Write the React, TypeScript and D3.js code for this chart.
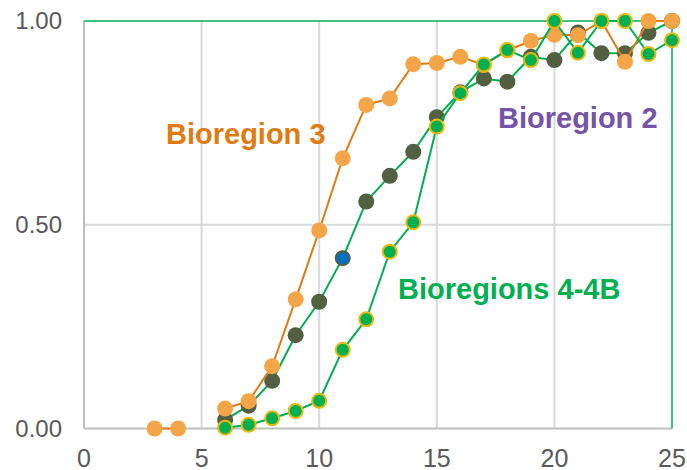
import React from "react";
import * as d3 from "d3";

// Bioregion 3 (orange)
const xOrange = [3, 4, 6, 7, 8, 9, 10, 11, 12, 13, 14, 15, 16, 17, 18, 19, 20, 21, 22, 23, 24, 25];
const yOrange = [0, 0, 0.049, 0.067, 0.153, 0.317, 0.486, 0.663, 0.794, 0.81, 0.894, 0.897, 0.912, 0.892, 0.928, 0.951, 0.966, 0.965, 1.0, 0.9, 1.0, 1.0];

// Bioregion 2 (dark markers)
const xDark = [6, 7, 8, 9, 10, 11, 12, 13, 14, 15, 16, 17, 18, 19, 20, 21, 22, 23, 24, 25];
const yDark = [0.021, 0.056, 0.117, 0.229, 0.311, 0.418, 0.557, 0.62, 0.679, 0.764, 0.825, 0.859, 0.851, 0.912, 0.904, 0.972, 0.921, 0.921, 0.971, 1.0];
const highlightX = [11];

// Bioregions 4-4B (green)
const xGreen = [6, 7, 8, 9, 10, 11, 12, 13, 14, 15, 16, 17, 18, 19, 20, 21, 22, 23, 24, 25];
const yGreen = [0.002, 0.009, 0.025, 0.043, 0.068, 0.193, 0.268, 0.434, 0.506, 0.741, 0.823, 0.893, 0.929, 0.904, 1.0, 0.922, 1.0, 1.0, 0.919, 0.953];

const xTicks = [0, 5, 10, 15, 20, 25];
const yTicks = [0, 0.5, 1.0];
const yTickLabels = ["0.00", "0.50", "1.00"];

const labels = ["Bioregion 3", "Bioregion 2", "Bioregions 4-4B"];

export default function App() {
  const W = 687, H = 470;
  const x = d3.scaleLinear().domain([0, 25]).range([84, 672]);
  const y = d3.scaleLinear().domain([0, 1]).range([428.5, 21]);

  const pts = (xs: number[], ys: number[]) => xs.map((v, i) => [v, ys[i]] as [number, number]);
  const orange = pts(xOrange, yOrange);
  const dark = pts(xDark, yDark);
  const green = pts(xGreen, yGreen);

  const line = d3
    .line<[number, number]>()
    .x((d) => x(d[0]))
    .y((d) => y(d[1]));

  // orange has a gap at x=5
  const orangeSegs: [number, number][][] = [];
  let cur: [number, number][] = [];
  orange.forEach((p, i) => {
    if (i > 0 && p[0] - orange[i - 1][0] > 1) {
      orangeSegs.push(cur);
      cur = [];
    }
    cur.push(p);
  });
  orangeSegs.push(cur);

  const font = "'Liberation Sans', Arial, sans-serif";

  return (
    <svg
      width={W}
      height={H}
      style={{ position: "absolute", left: 0, top: 0, background: "#fff" }}
    >
      {/* gridlines */}
      {xTicks.filter((t) => t > 0 && t < 25).map((t) => (
        <line key={"gx" + t} x1={x(t)} x2={x(t)} y1={y(1)} y2={y(0)} stroke="#D9D9D9" strokeWidth={2} />
      ))}
      {yTicks.filter((t) => t > 0 && t < 1).map((t) => (
        <line key={"gy" + t} x1={x(0)} x2={x(25)} y1={y(t)} y2={y(t)} stroke="#D9D9D9" strokeWidth={2} />
      ))}
      {/* axes */}
      <line x1={x(0)} x2={x(0)} y1={y(1)} y2={y(0)} stroke="#BFBFBF" strokeWidth={2} />
      <line x1={x(0)} x2={x(25)} y1={y(0)} y2={y(0)} stroke="#BFBFBF" strokeWidth={2} />
      {/* green frame */}
      <line x1={x(0)} x2={x(25)} y1={y(1)} y2={y(1)} stroke="#00B050" strokeWidth={1.5} />
      <line x1={x(25)} x2={x(25)} y1={y(1)} y2={y(0)} stroke="#00B050" strokeWidth={1.5} />

      {/* tick labels */}
      {yTicks.map((t, i) => (
        <text key={"yl" + t} x={62} y={y(t) + 8.3} textAnchor="end" fontFamily={font} fontSize={24} fill="#595959">
          {yTickLabels[i]}
        </text>
      ))}
      {xTicks.map((t) => (
        <text key={"xl" + t} x={x(t)} y={466.5} textAnchor="middle" fontFamily={font} fontSize={25} fill="#595959">
          {t}
        </text>
      ))}

      {/* dark series */}
      <path d={line(dark) || ""} fill="none" stroke="#00B050" strokeWidth={2} />
      {dark.map((p) =>
        highlightX.includes(p[0]) ? (
          <circle key={"d" + p[0]} cx={x(p[0])} cy={y(p[1])} r={7} fill="#0070C0" stroke="#535F41" strokeWidth={2} />
        ) : (
          <circle key={"d" + p[0]} cx={x(p[0])} cy={y(p[1])} r={8} fill="#535F41" />
        )
      )}

      {/* orange series */}
      {orangeSegs.map((s, i) => (
        <path key={"os" + i} d={line(s) || ""} fill="none" stroke="#E07B12" strokeWidth={2} />
      ))}
      {orange.map((p) => (
        <circle key={"o" + p[0]} cx={x(p[0])} cy={y(p[1])} r={8} fill="#F4A548" />
      ))}

      {/* green series */}
      <path d={line(green) || ""} fill="none" stroke="#00B050" strokeWidth={2} />
      {green.map((p) => (
        <circle key={"g" + p[0]} cx={x(p[0])} cy={y(p[1])} r={7} fill="#00B050" stroke="#E8B810" strokeWidth={2} />
      ))}

      {/* series labels */}
      <text x={166} y={144} fontFamily={font} fontWeight="bold" fontSize={29} fill="#E07B12">
        {labels[0]}
      </text>
      <text x={498} y={128.3} fontFamily={font} fontWeight="bold" fontSize={29} fill="#7454A6">
        {labels[1]}
      </text>
      <text x={398} y={299.3} fontFamily={font} fontWeight="bold" fontSize={29} fill="#00B050">
        {labels[2]}
      </text>
    </svg>
  );
}
